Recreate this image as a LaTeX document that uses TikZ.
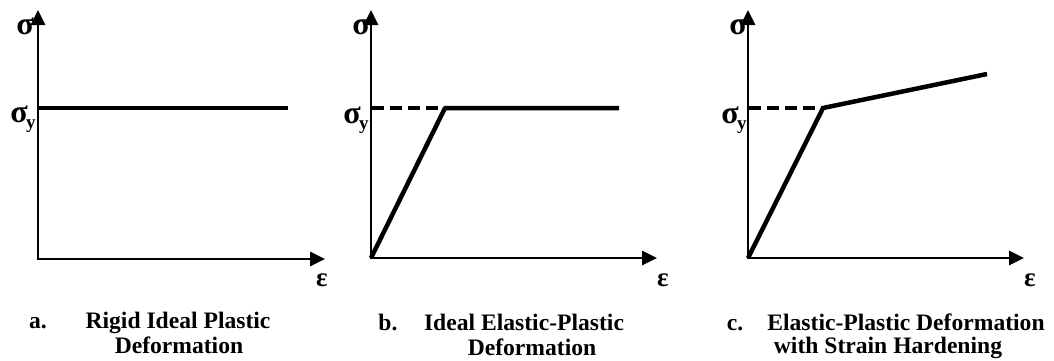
\documentclass[tikz,border=0pt]{standalone}
\usepackage{fontspec}
\setmainfont{Liberation Serif}
\usetikzlibrary{arrows.meta}
\newcommand{\sigy}{σ\kern-1.5pt\raisebox{-6pt}{\fontsize{19}{19}\selectfont y}}
\begin{document}
\begin{tikzpicture}[x=1pt,y=-1pt,
  axis/.style={line width=2.7pt,-{Triangle[length=15pt,width=14pt]}},
  curve/.style={line width=4.5pt},
  dashline/.style={line width=3.2pt,dash pattern=on 12pt off 6pt},
  sym/.style={inner sep=0pt,font=\bfseries\fontsize{32}{32}\selectfont},
  epsl/.style={inner sep=0pt,font=\bfseries\fontsize{27}{27}\selectfont},
  captext/.style={inner sep=0pt,anchor=base,font=\bfseries\fontsize{23.6}{25}\selectfont}]
\useasboundingbox (0,0) rectangle (1054,360);
% ---------- panel a ----------
\coordinate (aO) at (38,259);
\coordinate (aY) at (38,10);
\coordinate (aX) at (325,259);
\coordinate (aS) at (38,108);
\coordinate (aE) at (288,108);
\draw[axis] (aO) -- (aY);
\draw[axis] ([xshift=-1.35pt]aO) -- (aX);
\draw[curve] (aS) -- (aE);
\node[sym] (asig) at (25,26) {σ};
\node[sym] (asy) at (23,119) {\sigy};
\node[epsl] (aeps) at (322,280) {ε};
\node[captext] (alab) at (38,328) {a.};
\node[captext] (at1) at (178,328) {Rigid Ideal Plastic};
\node[captext] (at2) at (179,353) {Deformation};
% ---------- panel b ----------
\coordinate (bO) at (371,258);
\coordinate (bY) at (371,10);
\coordinate (bX) at (657,258);
\coordinate (bK) at (445,108);
\coordinate (bE) at (619,108);
\coordinate (bL) at (372,108);
\draw[axis] (bO) -- (bY);
\draw[axis] ([xshift=-1.35pt]bO) -- (bX);
\draw[dashline] (bL) -- (bK);
\draw[curve,line join=round] (bO) -- (bK) -- (bE);
\node[sym] (bsig) at (361,26) {σ};
\node[sym] (bsy) at (356,120) {\sigy};
\node[epsl] (beps) at (663,280) {ε};
\node[captext] (blab) at (388,330) {b.};
\node[captext] (bt1) at (524,330) {Ideal Elastic-Plastic};
\node[captext] (bt2) at (532,355) {Deformation};
% ---------- panel c ----------
\coordinate (cO) at (748,258);
\coordinate (cY) at (748,10);
\coordinate (cX) at (1024,258);
\coordinate (cK) at (823,108);
\coordinate (cE) at (987,74);
\coordinate (cL) at (749,108);
\draw[axis] (cO) -- (cY);
\draw[axis] ([xshift=-1.35pt]cO) -- (cX);
\draw[dashline] (cL) -- (cK);
\draw[curve,line join=round] (cO) -- (cK) -- (cE);
\node[sym] (csig) at (738,26) {σ};
\node[sym] (csy) at (734,120) {\sigy};
\node[epsl] (ceps) at (1030,280) {ε};
\node[captext] (clab) at (735,330) {c.};
\node[captext] (ct1) at (906,330) {Elastic-Plastic Deformation};
\node[captext] (ct2) at (888,353) {with Strain Hardening};
\end{tikzpicture}
\end{document}
